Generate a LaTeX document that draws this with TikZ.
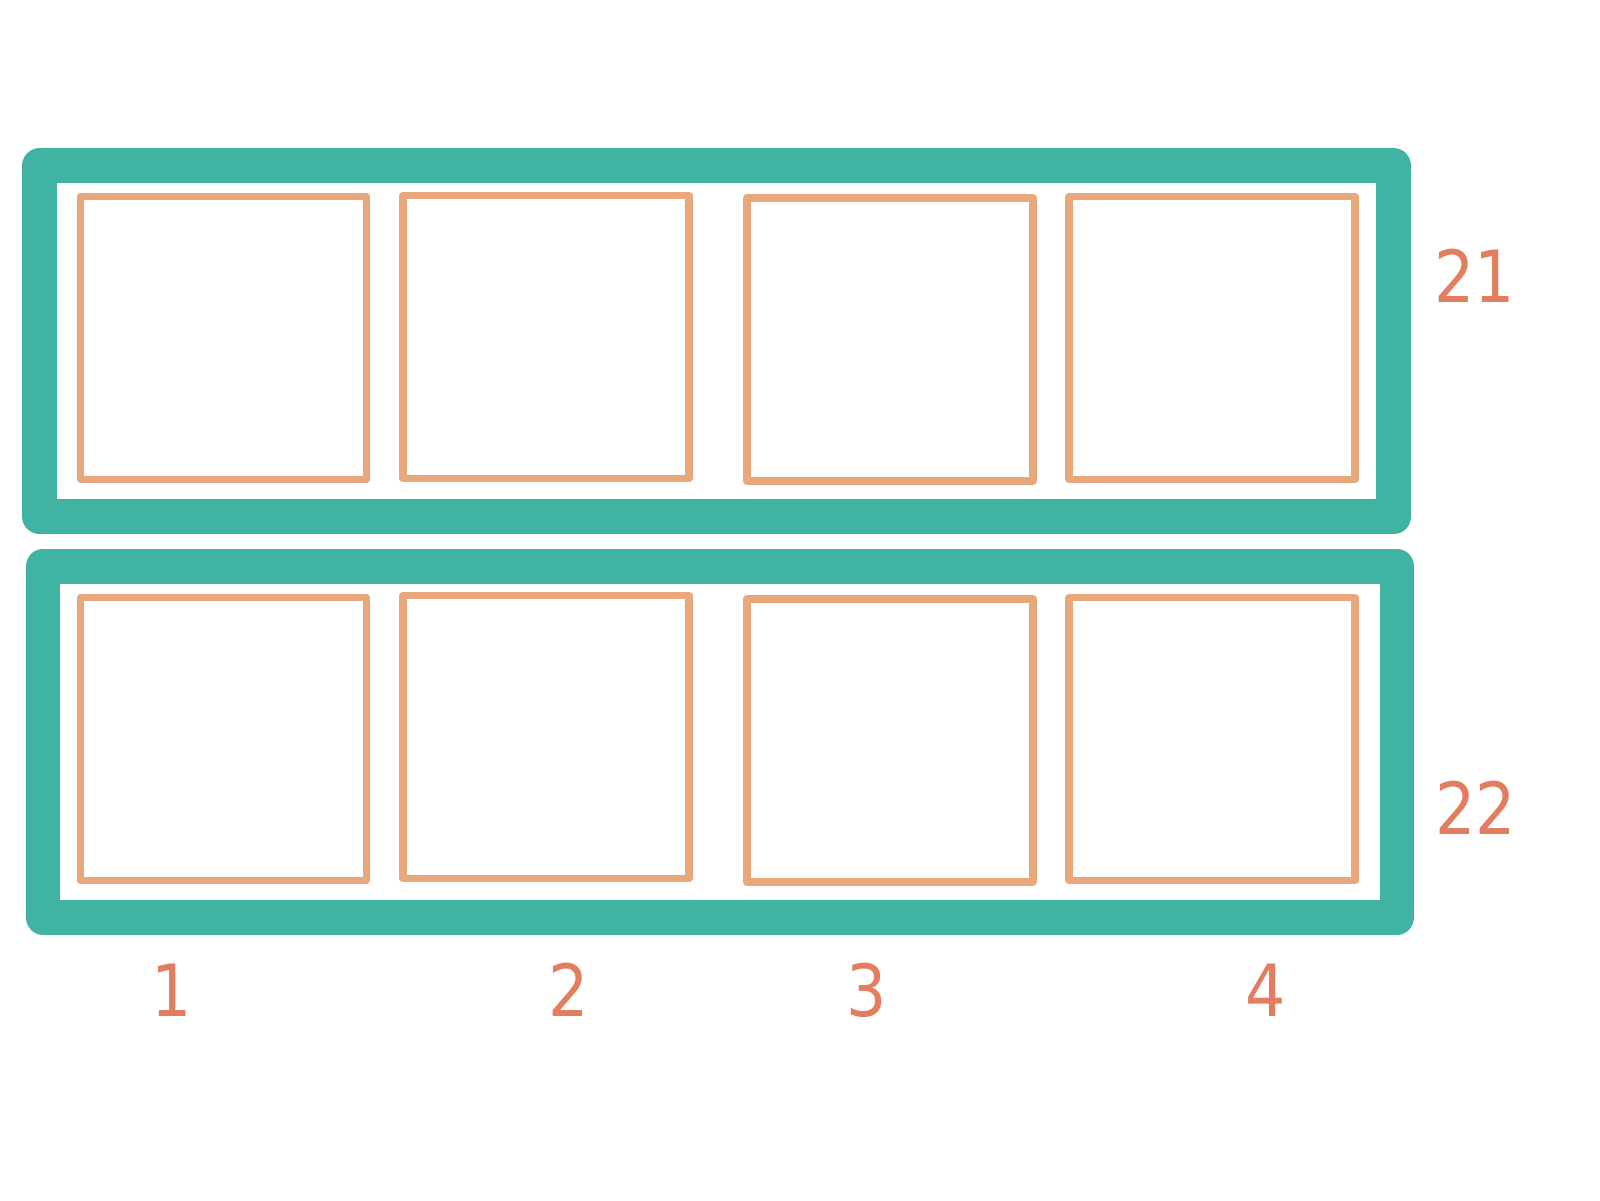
\documentclass[tikz,border=0pt]{standalone}
\usepackage{fontspec}
\setmainfont{DejaVu Sans}
\newfontfamily\digitfont[FakeStretch=0.88]{DejaVu Sans}
\usetikzlibrary{positioning}
\definecolor{teal}{HTML}{41B3A3}
\definecolor{peach}{HTML}{E8A87C}
\definecolor{coral}{HTML}{E27D60}
\begin{document}
\begin{tikzpicture}[x=1pt,y=-1pt,
frame/.style={draw=teal,line width=34.7pt,line join=round,minimum width=1354pt,minimum height=351pt,inner sep=0pt},
cell/.style={draw=peach,line width=7.6pt,line join=round,minimum width=286pt,minimum height=283pt,inner sep=0pt},
digit/.style={text=coral,inner sep=0pt,font=\digitfont\fontsize{72}{86}\selectfont}]
\useasboundingbox (0,0) rectangle (1600,1200);
\node[frame] (row1) at (716.8,341.3) {};
\node[frame] (row2) at (719.9,741.8) {};
% cells of the first row
\node[cell] (c11) at (223.5,338.0) {};
\node[cell] (c12) at (545.9,337.0) {};
\node[cell] (c13) at (889.8,339.6) {};
\node[cell] (c14) at (1212.2,338.0) {};
% cells of the second row
\node[cell] (c21) at (223.5,739.1) {};
\node[cell] (c22) at (545.9,737.0) {};
\node[cell] (c23) at (889.8,740.6) {};
\node[cell] (c24) at (1212.2,739.1) {};
\node[digit] (r1) at (1474.5,275.5) {21};
\node[digit] (r2) at (1475.5,808.0) {22};
\node[digit] (n1) at (171.4,989.8) {1};
\node[digit] (n2) at (568.4,989.8) {2};
\node[digit] (n3) at (866.3,989.8) {3};
\node[digit] (n4) at (1265.3,989.8) {4};
\end{tikzpicture}
\end{document}
